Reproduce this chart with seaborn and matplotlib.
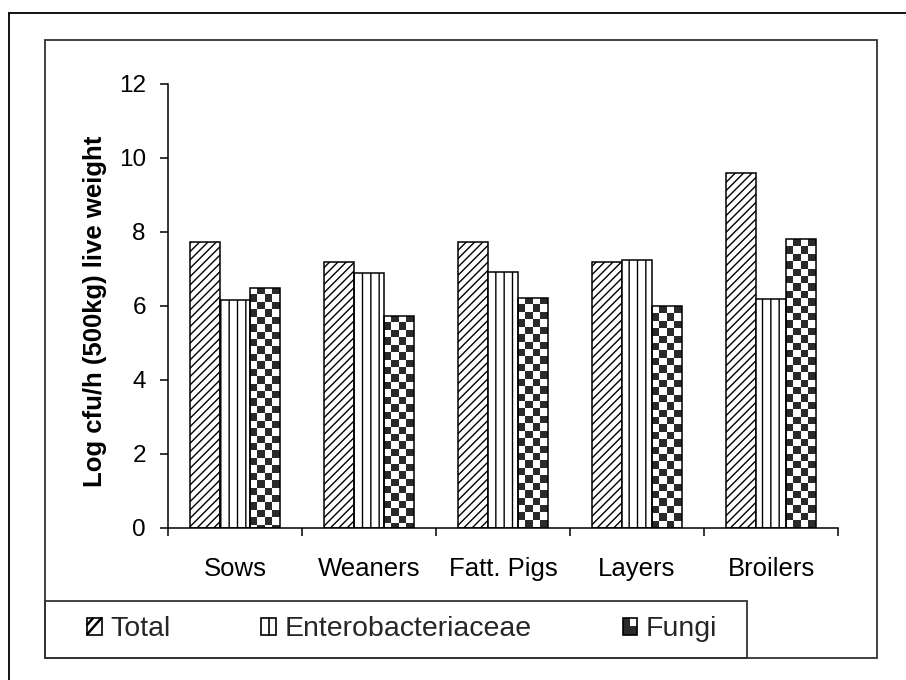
import numpy as np
import pandas as pd
import seaborn as sns
import matplotlib.pyplot as plt
from matplotlib.patches import Rectangle, Patch
from matplotlib.lines import Line2D
from matplotlib.colors import ListedColormap
from matplotlib.legend_handler import HandlerBase

# values
categories = ["Sows", "Weaners", "Fatt. Pigs", "Layers", "Broilers"]
series = ["Total", "Enterobacteriaceae", "Fungi"]
total = [7.73, 7.19, 7.73, 7.19, 9.59]
entero = [6.16, 6.89, 6.92, 7.24, 6.20]
fungi = [6.49, 5.73, 6.22, 6.00, 7.81]
yticks = [0, 2, 4, 6, 8, 10, 12]

df = pd.DataFrame({"animal": categories * 3,
                   "series": np.repeat(series, len(categories)),
                   "value": total + entero + fungi})

sns.set_style("white")
plt.rcParams['font.family'] = ['Liberation Sans', 'DejaVu Sans']
plt.rcParams['hatch.linewidth'] = 1.0
plt.rcParams['hatch.color'] = 'black'

W, H = 906, 680
fig = plt.figure(figsize=(W / 100, H / 100), dpi=100)
ax = fig.add_axes([168 / W, 1 - 528 / H, 670 / W, 444 / H])

sns.barplot(data=df, x="animal", y="value", hue="series",
            order=categories, hue_order=series,
            palette={s: "white" for s in series}, saturation=1,
            width=0.67, edgecolor="black", linewidth=1.1,
            legend=False, ax=ax)

for bar in ax.containers[0]:
    bar.set_hatch('////')
for bar in ax.containers[1]:
    bar.set_hatch('||')

# checkerboard fill for fungi bars
checker = ListedColormap(["white", "#2a2a2a"])
sq_y = 0.2
for bar in ax.containers[2]:
    x0, w, h = bar.get_x(), bar.get_width(), bar.get_height()
    bar.set_facecolor("none")
    nrows = int(np.ceil(h / sq_y)) + 1
    arr = np.add.outer(np.arange(nrows), np.arange(4)) % 2
    im = ax.imshow(arr, cmap=checker, interpolation='nearest', aspect='auto',
                   extent=(x0, x0 + w, h - nrows * sq_y, h), zorder=0.9)
    im.set_clip_path(bar)

ax.set_xlim(-0.5, 4.5)
ax.set_ylim(0, 12)
ax.set_yticks(yticks)
ax.set_xticks(np.arange(-0.5, 5, 1))
ax.set_xticklabels([])
ax.set_xticks(range(len(categories)), categories, minor=True)
ax.set_xlabel("")
ax.set_ylabel("Log cfu/h (500kg) live weight", fontsize=18.5, fontweight='bold', color='black')
ax.yaxis.set_label_coords(-0.091, 0.489)

ax.tick_params(axis='x', which='major', bottom=True, direction='out', length=6, width=1.1, color='black')
ax.tick_params(axis='x', which='minor', bottom=True, length=0, pad=21, labelsize=18.5, labelcolor='black')
ax.tick_params(axis='y', left=True, direction='out', length=6, width=1.1, pad=10,
               labelsize=17.5, color='black', labelcolor='black')
sns.despine(ax=ax)
for s in ["left", "bottom"]:
    ax.spines[s].set_color("black")
    ax.spines[s].set_linewidth(1.1)


class IconHandler(HandlerBase):
    def __init__(self, kind):
        super().__init__()
        self.kind = kind

    def create_artists(self, legend, orig_handle, xdescent, ydescent, width, height, fontsize, trans):
        x0, y0 = -xdescent, -ydescent
        arts = []
        if self.kind == "fungi":
            arts.append(Rectangle((x0, y0), width, height, facecolor="#2a2a2a", edgecolor="none", transform=trans))
            arts.append(Rectangle((x0 + width / 2, y0 + height / 2), width / 2, height / 2,
                                  facecolor="white", edgecolor="none", transform=trans))
        elif self.kind == "total":
            for f in (0.3, 0.75):
                arts.append(Line2D([x0, x0 + width * f * 1.3], [y0 + height * (1 - f * 1.3), y0 + height],
                                   color="black", lw=1.8, transform=trans))
        else:
            arts.append(Line2D([x0 + width / 2] * 2, [y0, y0 + height], color="black", lw=1.2, transform=trans))
        arts.append(Rectangle((x0, y0), width, height, facecolor="none", edgecolor="black", lw=1.2,
                              transform=trans))
        return arts


handles = [Patch(label=s) for s in series]
hmap = {handles[0]: IconHandler("total"), handles[1]: IconHandler("entero"), handles[2]: IconHandler("fungi")}
fig.legend(handles=handles, labels=series, handler_map=hmap, loc='center',
           bbox_to_anchor=(402 / W, 1 - 629.5 / H), ncol=3, frameon=False,
           fontsize=20.5, handlelength=0.5, handleheight=0.5, handletextpad=0.3,
           columnspacing=3.2)

# chart frames
fig.add_artist(Rectangle((45 / W, 1 - 658 / H), 832 / W, 618 / H, transform=fig.transFigure,
                         fill=False, edgecolor="#333333", lw=1.3))
fig.add_artist(Rectangle((45 / W, 1 - 658 / H), 702 / W, 57 / H, transform=fig.transFigure,
                         fill=False, edgecolor="#333333", lw=1.3))
fig.add_artist(Line2D([9 / W, 1], [1 - 13 / H] * 2, transform=fig.transFigure, color="black", lw=1.3))
fig.add_artist(Line2D([9 / W] * 2, [0, 1 - 13 / H], transform=fig.transFigure, color="black", lw=1.3))

fig.savefig("out.png", dpi=100)
